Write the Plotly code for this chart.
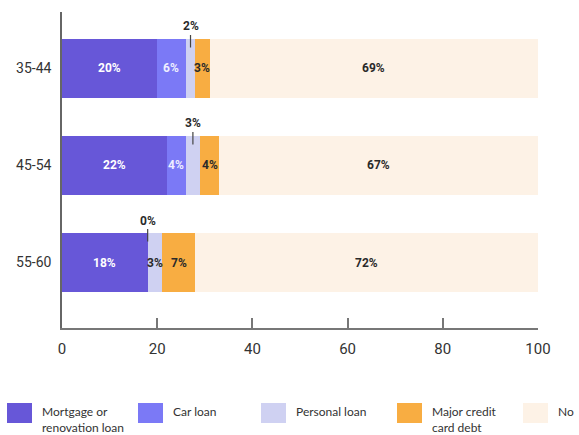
import plotly.graph_objects as go

# Share of each age group by type of debt (%)
age_groups = ["35-44", "45-54", "55-60"]
series_names = ["Mortgage or renovation loan", "Car loan", "Personal loan",
                "Major credit card debt", "No debt"]
legend_labels = ["Mortgage or<br>renovation loan", "Car loan", "Personal loan",
                 "Major credit<br>card debt", "No"]
mortgage = [20, 22, 18]
car_loan = [6, 4, 0]
personal_loan = [2, 3, 3]
credit_card = [3, 4, 7]
no_debt = [69, 67, 72]
x_ticks = [0, 20, 40, 60, 80, 100]

series_values = [mortgage, car_loan, personal_loan, credit_card, no_debt]
colors = ["#6757d8", "#7b79f6", "#cfd1f2", "#f8ad42", "#fdf2e6"]
label_colors = ["#ffffff", "#eeeeff", "#2a2a2a", "#2a2a2a", "#2a2a2a"]
# (series index, age group index) of segments labelled above the bar
callouts = {(2, 0), (2, 1), (1, 2)}

W, H = 579, 435
M_L, M_R, M_T, M_B = 62, 41, 12, 107
PW, PH = W - M_L - M_R, H - M_T - M_B


def paper_x(px):
    return (px - M_L) / PW


def paper_y(py):
    return (H - M_B - py) / PH


fig = go.Figure()
for name, vals, col in zip(series_names, series_values, colors):
    fig.add_trace(go.Bar(
        x=vals, y=age_groups, orientation="h", name=name,
        marker=dict(color=col, line=dict(width=0)),
        showlegend=False, hoverinfo="x+name",
    ))

annotations = []
label_font = dict(family="Roboto", size=12, weight=700)
for g, grp in enumerate(age_groups):
    start = 0
    for s, vals in enumerate(series_values):
        v = vals[g]
        mid = start + v / 2
        if (s, g) in callouts:
            annotations.append(dict(
                x=mid, y=grp, xref="x", yref="y", text=f"{v}%",
                showarrow=True, ax=0, ay=-42, arrowhead=0, arrowwidth=1.2,
                arrowcolor="#444", standoff=21,
                font=dict(label_font, color="#2a2a2a"),
            ))
        else:
            annotations.append(dict(
                x=mid, y=grp, xref="x", yref="y", text=f"{v}%",
                showarrow=False, font=dict(label_font, color=label_colors[s]),
            ))
        start += v

# Legend row along the bottom
legend_left = [7, 138, 261, 397, 523]
shapes = []
for label, col, lx in zip(legend_labels, colors, legend_left):
    shapes.append(dict(
        type="rect", xref="paper", yref="paper",
        x0=paper_x(lx), x1=paper_x(lx + 25), y0=paper_y(423), y1=paper_y(403),
        fillcolor=col, line=dict(width=0), layer="above",
    ))
    annotations.append(dict(
        x=paper_x(lx + 33), y=paper_y(402), xref="paper", yref="paper",
        xanchor="left", yanchor="top", align="left", showarrow=False,
        text=label, font=dict(family="Lato", size=12, color="#333333"),
    ))

fig.update_layout(
    width=W, height=H,
    margin=dict(l=M_L, r=M_R, t=M_T, b=M_B),
    barmode="stack", bargap=0.39,
    plot_bgcolor="white", paper_bgcolor="white",
    annotations=annotations, shapes=shapes,
    xaxis=dict(
        range=[0, 100], tickvals=x_ticks, ticks="inside", ticklen=10,
        tickcolor="#777777", tickwidth=1.5, showline=True,
        linecolor="#777777", linewidth=1.5, showgrid=False, zeroline=False,
        ticklabelstandoff=6,
        tickfont=dict(family="Roboto", size=15, color="#333333"),
    ),
    yaxis=dict(
        type="category", categoryarray=age_groups,
        range=[2.675, -0.582], showline=True, linecolor="#666666",
        linewidth=1.5, ticks="", showgrid=False, zeroline=False,
        ticklabelstandoff=6,
        tickfont=dict(family="Roboto", size=14, color="#333333"),
    ),
)

fig.write_html("out.html")
